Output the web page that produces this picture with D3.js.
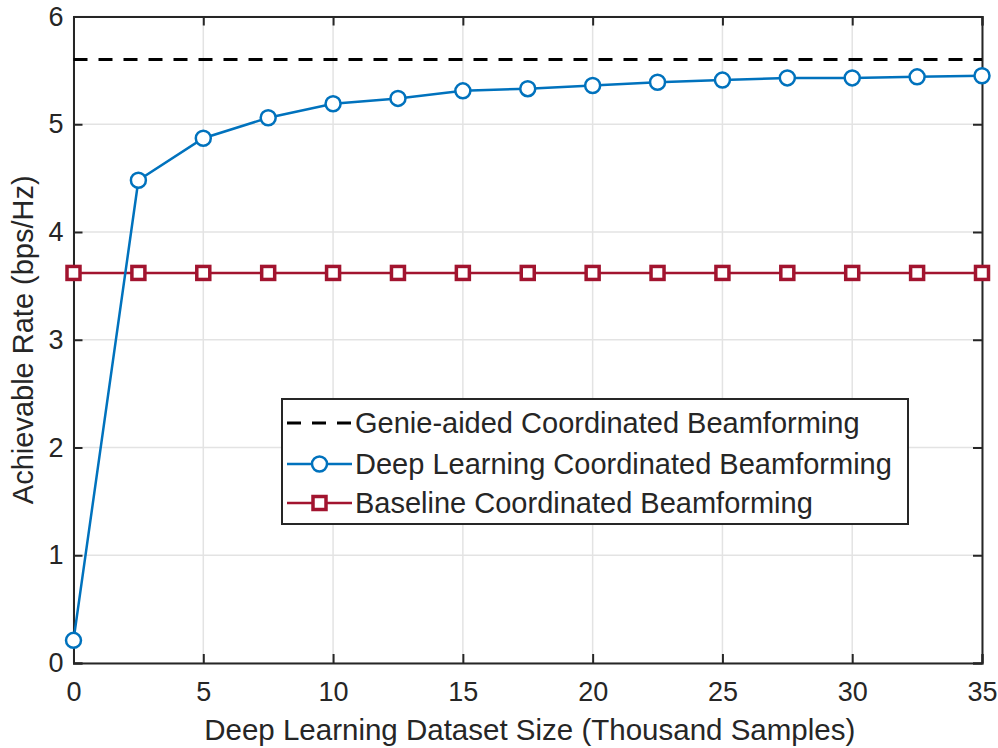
<!DOCTYPE html>
<html><head><meta charset="utf-8">
<script src="https://cdn.jsdelivr.net/npm/d3@7"></script>
<style>body{margin:0;background:#fff;} svg text{font-family:"Liberation Sans",Arial,Helvetica,sans-serif !important;}</style>
</head><body>
<svg id="c" width="998" height="748"></svg>
<script>
const xValues = [0, 2.5, 5, 7.5, 10, 12.5, 15, 17.5, 20, 22.5, 25, 27.5, 30, 32.5, 35];
const deepLearning = [0.21, 4.48, 4.87, 5.06, 5.19, 5.24, 5.31, 5.33, 5.36, 5.39, 5.41, 5.43, 5.43, 5.44, 5.45];
const baseline = [3.62, 3.62, 3.62, 3.62, 3.62, 3.62, 3.62, 3.62, 3.62, 3.62, 3.62, 3.62, 3.62, 3.62, 3.62];
const genie = [5.60, 5.60];
const genieX = [0, 35];
const xTicks = [0, 5, 10, 15, 20, 25, 30, 35];
const yTicks = [0, 1, 2, 3, 4, 5, 6];
const legendLabels = ["Genie-aided Coordinated Beamforming", "Deep Learning Coordinated Beamforming", "Baseline Coordinated Beamforming"];

const svg = d3.select("#c");
const L = 73.5, R = 982, T = 16.5, B = 663;
const x = d3.scaleLinear().domain([0, 35]).range([L, R]);
const y = d3.scaleLinear().domain([0, 6]).range([B, T]);
const blue = "#0072BD", red = "#A2142F", ink = "#262626";
const FONT = "Liberation Sans, Arial, sans-serif";

// grid
svg.append("g").selectAll("line").data(xTicks).join("line")
  .attr("x1", d => x(d)).attr("x2", d => x(d)).attr("y1", T).attr("y2", B)
  .attr("stroke", "#e3e3e3").attr("stroke-width", 1.5);
svg.append("g").selectAll("line").data(yTicks).join("line")
  .attr("y1", d => y(d)).attr("y2", d => y(d)).attr("x1", L).attr("x2", R)
  .attr("stroke", "#e3e3e3").attr("stroke-width", 1.5);

// axes
const xAxis = d3.axisBottom(x).tickValues(xTicks).tickSize(-9).tickPadding(18).tickFormat(d3.format("d"));
const yAxis = d3.axisLeft(y).tickValues(yTicks).tickSize(-9).tickPadding(10).tickFormat(d3.format("d"));
const gx = svg.append("g").attr("transform", `translate(0,${B})`).call(xAxis);
const gy = svg.append("g").attr("transform", `translate(${L},0)`).call(yAxis);
const gx2 = svg.append("g").attr("transform", `translate(0,${T})`).call(d3.axisTop(x).tickValues(xTicks).tickSize(-9).tickFormat(""));
const gy2 = svg.append("g").attr("transform", `translate(${R},0)`).call(d3.axisRight(y).tickValues(yTicks).tickSize(-9).tickFormat(""));
[gx, gy, gx2, gy2].forEach(g => {
  g.attr("font-family", FONT);
  g.select(".domain").attr("stroke", ink).attr("stroke-width", 2);
  g.selectAll(".tick line").attr("stroke", ink).attr("stroke-width", 2);
  g.selectAll("text").attr("fill", ink).style("font-size", "27px");
});
gx.selectAll("text").attr("dy", "0.71em").attr("y", 19);

// genie dashed
svg.append("path").datum(genieX.map((d, i) => [d, genie[i]]))
  .attr("d", d3.line().x(d => x(d[0])).y(d => y(d[1])))
  .attr("fill", "none").attr("stroke", "#000").attr("stroke-width", 3).attr("stroke-dasharray", "14,11");

// baseline
svg.append("path").datum(xValues.map((d, i) => [d, baseline[i]]))
  .attr("d", d3.line().x(d => x(d[0])).y(d => y(d[1])))
  .attr("fill", "none").attr("stroke", red).attr("stroke-width", 2.5);
svg.append("g").selectAll("rect").data(xValues.map((d, i) => [d, baseline[i]])).join("rect")
  .attr("x", d => x(d[0]) - 6.5).attr("y", d => y(d[1]) - 6.5).attr("width", 13).attr("height", 13)
  .attr("fill", "#fff").attr("stroke", red).attr("stroke-width", 3.5);

// deep learning
svg.append("path").datum(xValues.map((d, i) => [d, deepLearning[i]]))
  .attr("d", d3.line().x(d => x(d[0])).y(d => y(d[1])))
  .attr("fill", "none").attr("stroke", blue).attr("stroke-width", 2.5);
svg.append("g").selectAll("circle").data(xValues.map((d, i) => [d, deepLearning[i]])).join("circle")
  .attr("cx", d => x(d[0])).attr("cy", d => y(d[1])).attr("r", 7.5)
  .attr("fill", "#fff").attr("stroke", blue).attr("stroke-width", 2.5);

// legend
const lg = svg.append("g");
lg.append("rect").attr("x", 282).attr("y", 399).attr("width", 626).attr("height", 125)
  .attr("fill", "#fff").attr("stroke", ink).attr("stroke-width", 2);
const rows = [423, 464, 503];
const lx1 = 287, lx2 = 352;
lg.append("line").attr("x1", lx1).attr("x2", lx2).attr("y1", rows[0]).attr("y2", rows[0])
  .attr("stroke", "#000").attr("stroke-width", 3).attr("stroke-dasharray", "14,11");
lg.append("line").attr("x1", lx1).attr("x2", lx2).attr("y1", rows[1]).attr("y2", rows[1])
  .attr("stroke", blue).attr("stroke-width", 2.5);
lg.append("circle").attr("cx", (lx1 + lx2) / 2).attr("cy", rows[1]).attr("r", 7.5)
  .attr("fill", "#fff").attr("stroke", blue).attr("stroke-width", 2.5);
lg.append("line").attr("x1", lx1).attr("x2", lx2).attr("y1", rows[2]).attr("y2", rows[2])
  .attr("stroke", red).attr("stroke-width", 2.5);
lg.append("rect").attr("x", (lx1 + lx2) / 2 - 6.5).attr("y", rows[2] - 6.5).attr("width", 13).attr("height", 13)
  .attr("fill", "#fff").attr("stroke", red).attr("stroke-width", 3.5);
lg.selectAll("text.l").data(legendLabels).join("text").attr("class", "l")
  .attr("x", 355).attr("y", (d, i) => rows[i]).attr("dy", "0.36em")
  .attr("font-family", FONT).attr("fill", ink).style("font-size", "29px").text(d => d);

// axis titles
svg.append("text").attr("x", (L + R) / 2 + 2).attr("y", 740).attr("text-anchor", "middle")
  .attr("font-family", FONT).attr("fill", ink).style("font-size", "29.5px").text("Deep Learning Dataset Size (Thousand Samples)");
svg.append("text").attr("transform", `translate(33,${(T + B) / 2}) rotate(-90)`).attr("text-anchor", "middle")
  .attr("font-family", FONT).attr("fill", ink).style("font-size", "29px").text("Achievable Rate (bps/Hz)");
</script>
</body></html>
